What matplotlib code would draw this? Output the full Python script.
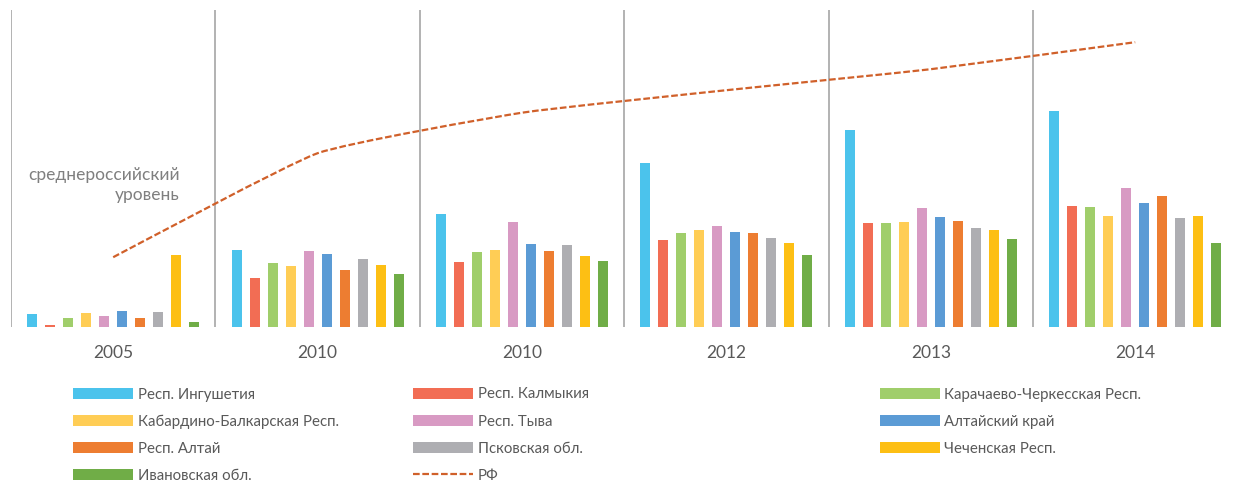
import numpy as np
import matplotlib
matplotlib.use("Agg")
import matplotlib.pyplot as plt
from matplotlib.path import Path
from matplotlib.patches import PathPatch, Patch
from matplotlib.lines import Line2D

plt.rcParams['font.family'] = ['Lato', 'DejaVu Sans']

# categories on the x axis
years = ["2005", "2010", "2010", "2012", "2013", "2014"]

# regions and their values per category
regions = ["Респ. Ингушетия", "Респ. Калмыкия", "Карачаево-Черкесская Респ.",
           "Кабардино-Балкарская Респ.", "Респ. Тыва", "Алтайский край",
           "Респ. Алтай", "Псковская обл.", "Чеченская Респ.", "Ивановская обл."]
ingushetia = [12.6, 76.5, 112.5, 164.0, 196.5, 215.5]
kalmykia = [1.5, 48.5, 64.5, 86.5, 103.5, 120.5]
kchr = [8.7, 63.5, 74.5, 94.0, 103.5, 119.5]
kbr = [14.0, 61.0, 77.0, 96.5, 104.5, 111.0]
tyva = [11.0, 76.0, 104.5, 100.5, 118.5, 138.5]
altai_krai = [15.5, 72.5, 83.0, 95.0, 109.5, 123.5]
altai_resp = [8.7, 57.0, 75.5, 93.5, 105.5, 130.5]
pskov = [14.5, 67.5, 81.5, 88.5, 98.5, 108.5]
chechnya = [72.0, 62.0, 71.0, 84.0, 96.5, 111.0]
ivanovo = [4.5, 52.5, 66.0, 71.5, 88.0, 83.5]
series = [ingushetia, kalmykia, kchr, kbr, tyva, altai_krai,
          altai_resp, pskov, chechnya, ivanovo]

# average for Russia
rf = [69.5, 173.5, 214.0, 236.5, 257.5, 284.5]

colors = ["#4BC3EC", "#F26D54", "#A0CE6B", "#FFCD55", "#D89AC3",
          "#5B9BD5", "#ED7D31", "#AEAEB2", "#FDBF14", "#70AD47"]
rf_color = "#D0602A"
text_color = "#595959"

fig = plt.figure(figsize=(12.35, 4.84), dpi=100)
W, H = 1235, 484
cat_w = 204.4
ax = fig.add_axes([11 / W, (H - 326.7) / H, 6 * cat_w / W, (326.7 - 10) / H])

x = np.arange(len(years))
step = 18 / cat_w
bw = 10 / cat_w
for i, (vals, col) in enumerate(zip(series, colors)):
    ax.bar(x + (i - 4.5) * step, vals, width=bw, color=col, zorder=2)

# slightly smoothed line through rf points (cubic bezier segments)
pts = np.column_stack([x, rf]).astype(float)
verts = [pts[0]]
codes = [Path.MOVETO]
tension = 1 / 14
for k in range(len(pts) - 1):
    p0 = pts[k - 1] if k > 0 else pts[k]
    p1, p2 = pts[k], pts[k + 1]
    p3 = pts[k + 2] if k + 2 < len(pts) else pts[k + 1]
    c1 = p1 + (p2 - p0) * tension
    c2 = p2 - (p3 - p1) * tension
    verts += [c1, c2, p2]
    codes += [Path.CURVE4] * 3
curve = PathPatch(Path(verts, codes), fill=False, edgecolor=rf_color,
                  linewidth=1.6, linestyle=(0, (3, 1.2)), zorder=3)
ax.add_patch(curve)

# separators between groups
for b in np.arange(-0.5, len(years), 1.0):
    ax.vlines(b, 0, 316.7, color="#A6A6A6", linewidth=1.2, zorder=1)

ax.set_xlim(-0.5, len(years) - 0.5)
ax.set_ylim(0, 316.7)
ax.set_xticks(x)
ax.set_xticklabels(years, fontsize=12.5, color=text_color)
ax.tick_params(axis="x", length=0, pad=13)
ax.set_yticks([])
for s in ax.spines.values():
    s.set_visible(False)

fig.text(180 / W, 1 - 185 / H, "среднероссийский\nуровень", ha="right",
         va="center", fontsize=12.5, color="#7F7F7F", linespacing=1.38)

# legend in three columns, row-major order
handles = [Patch(facecolor=c) for c in colors]
handles.append(Line2D([0], [0], color=rf_color, lw=1.6, linestyle=(0, (3, 1.2))))
labels = regions + ["РФ"]
columns = [[0, 3, 6, 9], [1, 4, 7, 10], [2, 5, 8]]
col_x = [73, 413, 880]
for cx, idx in zip(col_x, columns):
    fig.legend([handles[j] for j in idx], [labels[j] for j in idx],
               loc="upper left", bbox_to_anchor=(cx / W, 1 - 387.5 / H),
               frameon=False, fontsize=10.8, labelcolor=text_color,
               handlelength=4.0, handleheight=0.7, handletextpad=0.3,
               labelspacing=0.87, borderpad=0, borderaxespad=0)

fig.savefig("out.png", dpi=100)
